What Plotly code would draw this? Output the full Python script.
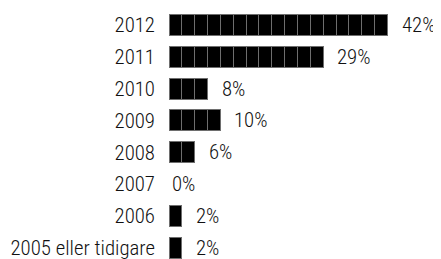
import plotly.graph_objects as go

categories = ["2012", "2011", "2010", "2009", "2008", "2007", "2006", "2005 eller tidigare"]
values = [42, 29, 8, 10, 6, 0, 2, 2]
value_labels = ["42%", "29%", "8%", "10%", "6%", "0%", "2%", "2%"]

BLOCK = 2.5  # percent per pictogram block
blocks = [int(round(v / BLOCK)) for v in values]
max_blocks = max(blocks)

FONT = "Roboto Condensed, Liberation Sans Narrow, sans-serif"
FSIZE = 20.8
FWEIGHT = 300

fig = go.Figure()
for k in range(max_blocks):
    fig.add_trace(go.Bar(
        y=categories,
        x=[BLOCK if k < n else None for n in blocks],
        orientation="h",
        marker=dict(color="#000000", line=dict(color="#6e6e6e", width=1)),
        showlegend=False,
        hoverinfo="skip",
    ))

for i, (n, lab) in enumerate(zip(blocks, value_labels)):
    fig.add_annotation(
        x=n * BLOCK, y=i, text=lab, showarrow=False,
        xanchor="left", yanchor="middle",
        xshift=12 if n > 0 else 1,
        font=dict(family=FONT, size=FSIZE, color="#111111", weight=FWEIGHT),
    )

# the page body adds an 8px offset, so the figure is sized to the remaining area
fig.update_layout(
    width=433, height=251,
    margin=dict(l=161, r=0, t=1, b=0, autoexpand=False),
    barmode="stack", bargap=0.34,
    plot_bgcolor="white", paper_bgcolor="white",
    font=dict(family=FONT, size=FSIZE, color="#111111", weight=FWEIGHT),
    xaxis=dict(range=[0, 52.9], visible=False, fixedrange=True, automargin=False),
    yaxis=dict(
        type="category", categoryorder="array", categoryarray=categories,
        range=[7.349, -0.5], showgrid=False, zeroline=False, showline=False,
        ticks="", ticklabelstandoff=13, fixedrange=True, automargin=False,
        tickfont=dict(family=FONT, size=FSIZE, color="#111111", weight=FWEIGHT),
    ),
)

fig.write_html("out.html")
